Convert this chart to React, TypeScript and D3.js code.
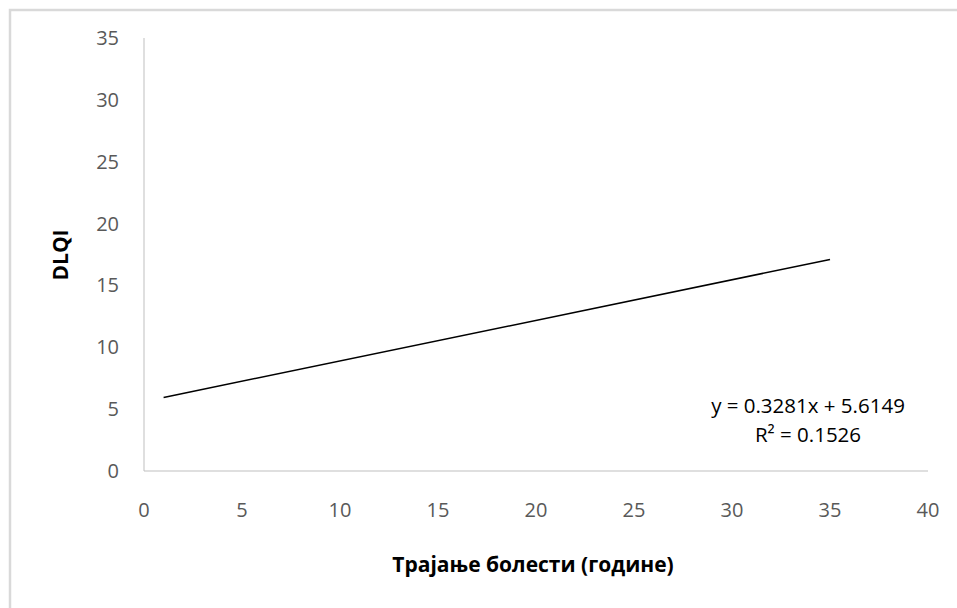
import React from "react";
import * as d3 from "d3";

const xTicks = [0, 5, 10, 15, 20, 25, 30, 35, 40];
const yTicks = [0, 5, 10, 15, 20, 25, 30, 35];
const slope = 0.3281;
const intercept = 5.6149;
const lineXs = [1, 35];
const equationText = "y = 0.3281x + 5.6149";
const r2Text = "R² = 0.1526";
const xTitle = "Трајање болести (године)";
const yTitle = "DLQI";

export default function App() {
  const W = 957, H = 608;
  const x = d3.scaleLinear().domain([0, 40]).range([144, 928]);
  const y = d3.scaleLinear().domain([0, 35]).range([471, 38]);
  const pts = lineXs.map((v) => [v, slope * v + intercept] as [number, number]);
  const line = d3.line<[number, number]>().x((d) => x(d[0])).y((d) => y(d[1]));
  const font = "'Open Sans', sans-serif";
  return (
    <svg width={W} height={H} style={{ position: "absolute", left: 0, top: 0, background: "#fff" }}>
      <rect x={10} y={10} width={W + 20} height={H + 20} fill="#fff" stroke="#d9d9d9" strokeWidth={2.5} />
      <line x1={x(0)} x2={x(0)} y1={y(35)} y2={y(0)} stroke="#bfbfbf" strokeWidth={1} />
      <line x1={x(0)} x2={x(40)} y1={y(0)} y2={y(0)} stroke="#bfbfbf" strokeWidth={1} />
      {yTicks.map((t) => (
        <text key={"y" + t} x={119} y={y(t)} dy="0.35em" textAnchor="end" fontFamily={font} fontSize={20} fill="#595959">{t}</text>
      ))}
      {xTicks.map((t) => (
        <text key={"x" + t} x={x(t)} y={510} dy="0.35em" textAnchor="middle" fontFamily={font} fontSize={20} fill="#595959">{t}</text>
      ))}
      <path d={line(pts) || ""} fill="none" stroke="#000" strokeWidth={1.5} />
      <text x={808} y={413} textAnchor="middle" fontFamily={font} fontSize={20.5} fill="#000">{equationText}</text>
      <text x={808} y={442} textAnchor="middle" fontFamily={font} fontSize={20.5} fill="#000">{r2Text}</text>
      <text x={533} y={565} dy="0.35em" textAnchor="middle" fontFamily={font} fontSize={21} fontWeight="bold" fill="#000">{xTitle}</text>
      <text transform={`translate(61,255) rotate(-90)`} dy="0.35em" textAnchor="middle" fontFamily={font} fontSize={21} fontWeight="bold" fill="#000">{yTitle}</text>
    </svg>
  );
}
